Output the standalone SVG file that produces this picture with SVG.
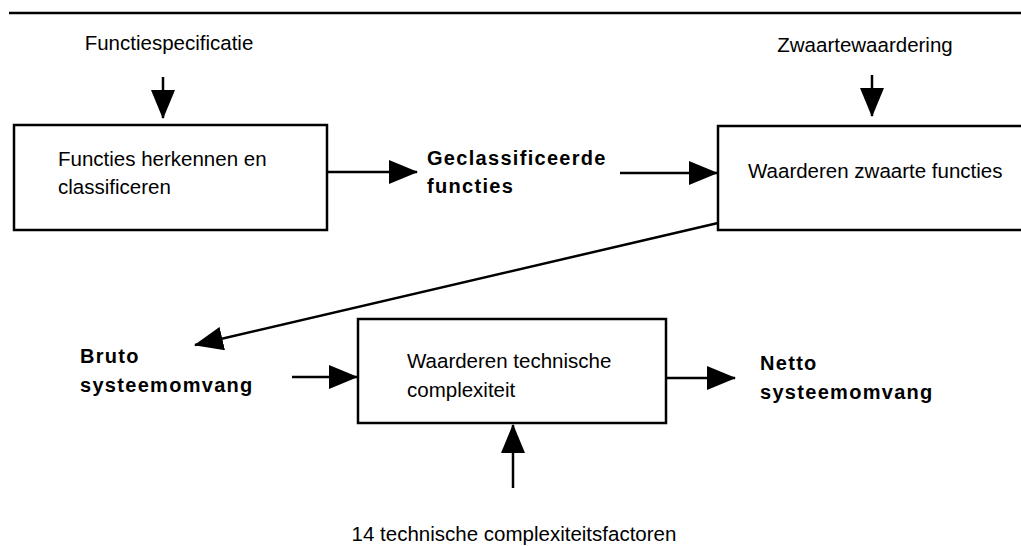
<svg xmlns="http://www.w3.org/2000/svg" width="1021" height="546" viewBox="0 0 1021 546">
  <style>
    .box { fill: #fff; stroke: #000; stroke-width: 2.5; }
    .lbl { font-family: "Liberation Sans", Arial, sans-serif; font-size: 20.5px; fill: #000; }
    .bold { font-family: "Liberation Sans", Arial, sans-serif; font-size: 20px; font-weight: bold; letter-spacing: 1.3px; fill: #000; }
    .conn { fill: none; stroke: #000; stroke-width: 2.5; marker-end: url(#arrow); }
  </style>
  <defs>
    <marker id="arrow" viewBox="0 0 29 24" markerWidth="29" markerHeight="24" refX="28" refY="12" markerUnits="userSpaceOnUse" orient="auto">
      <path d="M0,0 L29,12 L0,24 Z" fill="#000"/>
    </marker>
  </defs>
  <rect width="1021" height="546" fill="#fff"/>

  <!-- header rule -->
  <line x1="9" y1="13" x2="1021" y2="13" stroke="#000" stroke-width="2.5"/>

  <!-- inputs and intermediate results -->
  <g id="functiespecificatie">
    <text class="lbl" x="169" y="50" text-anchor="middle">Functiespecificatie</text>
  </g>
  <g id="zwaartewaardering">
    <text class="lbl" x="865" y="52" text-anchor="middle">Zwaartewaardering</text>
  </g>
  <g id="geclassificeerde-functies">
    <text class="bold" x="427" y="165">Geclassificeerde</text>
    <text class="bold" x="427" y="193">functies</text>
  </g>
  <g id="bruto-systeemomvang">
    <text class="bold" x="80" y="363">Bruto</text>
    <text class="bold" x="80" y="392">systeemomvang</text>
  </g>
  <g id="netto-systeemomvang">
    <text class="bold" x="760" y="370">Netto</text>
    <text class="bold" x="760" y="399">systeemomvang</text>
  </g>
  <g id="complexiteitsfactoren">
    <text class="lbl" x="514" y="541" text-anchor="middle" font-size="21.5px">14 technische complexiteitsfactoren</text>
  </g>

  <!-- process steps -->
  <g id="functies-herkennen">
    <rect class="box" x="14" y="125" width="313" height="105"/>
    <text class="lbl" x="58" y="166">Functies herkennen en</text>
    <text class="lbl" x="58" y="194">classificeren</text>
  </g>
  <g id="waarderen-zwaarte">
    <rect class="box" x="718" y="126" width="312" height="104"/>
    <text class="lbl" x="748" y="178">Waarderen zwaarte functies</text>
  </g>
  <g id="waarderen-complexiteit">
    <rect class="box" x="358" y="319" width="308" height="104"/>
    <text class="lbl" x="407" y="368">Waarderen technische</text>
    <text class="lbl" x="407" y="397">complexiteit</text>
  </g>

  <!-- connectors -->
  <g id="connectors">
    <path class="conn" d="M163,77 L163,118"/>
    <path class="conn" d="M327,172 L417,172"/>
    <path class="conn" d="M620,173 L717,173"/>
    <path class="conn" d="M872,75 L872,116"/>
    <path class="conn" d="M718,223 L195,345"/>
    <path class="conn" d="M292,377 L357,377"/>
    <path class="conn" d="M666,378 L735,378"/>
    <path class="conn" d="M513,488 L513,425"/>
  </g>
</svg>
